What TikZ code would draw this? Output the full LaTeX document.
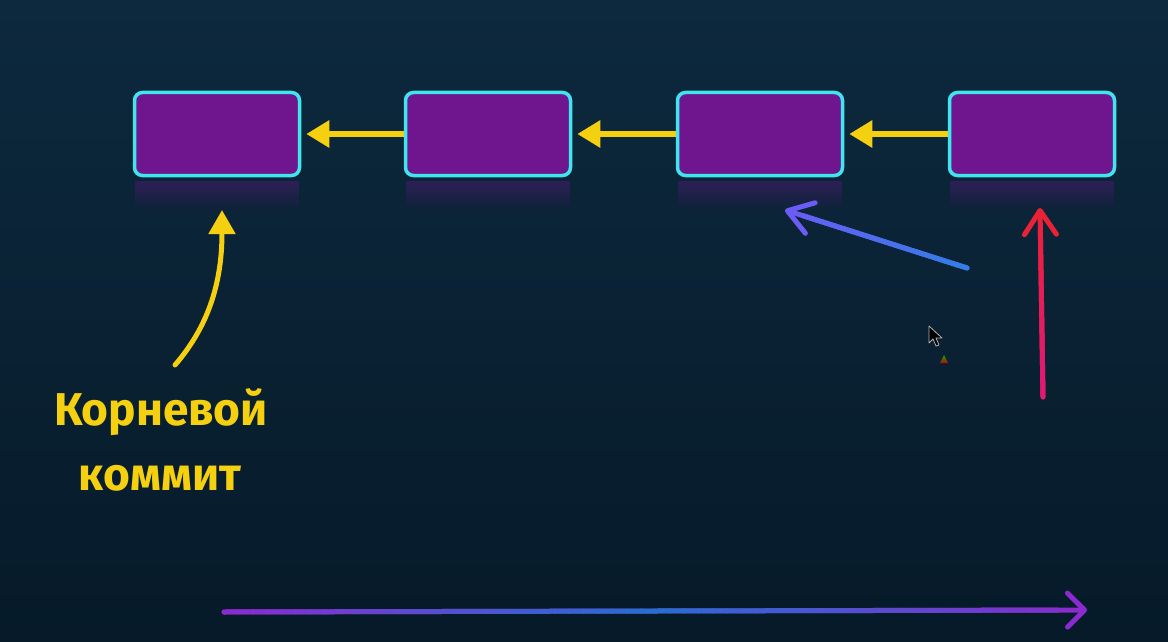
\documentclass[tikz,border=0pt]{standalone}
\usepackage{fontspec}
\setmainfont{Fira Sans}
\usetikzlibrary{arrows.meta,calc,fadings}
\definecolor{bgtop}{HTML}{0D293E}
\definecolor{bgbot}{HTML}{061A29}
\definecolor{boxfill}{HTML}{6F168F}
\definecolor{cyanb}{HTML}{3FE6EE}
\definecolor{yel}{HTML}{F5D010}
\definecolor{bluel}{HTML}{6A5CF5}
\definecolor{bluer}{HTML}{2F80E6}
\definecolor{redt}{HTML}{EA2238}
\definecolor{redb}{HTML}{E0187A}
\definecolor{purpe}{HTML}{8B2BCF}
\definecolor{bluem}{HTML}{2370D0}
\begin{document}
\begin{tikzpicture}[x=1pt,y=-1pt,
  commit/.style={draw=cyanb, line width=3.5pt, fill=boxfill, rounded corners=8pt,
    minimum width=165pt, minimum height=83pt, inner sep=0pt},
  refl/.style={fill=boxfill, fill opacity=0.35, path fading=south},
  yarrow/.style={draw=yel, line width=6pt, -{Triangle[length=23pt,width=26pt]}},
  barb/.style={line width=5pt, line cap=round, -{Straight Barb[length=24pt,width=32pt,line cap=round,line join=round]}},
  barbs/.style={line width=5pt, line cap=round, -{Straight Barb[length=17pt,width=34pt,line cap=round,line join=round]}},
  seg/.style={line width=5pt, line cap=round},
  lbl/.style={text=yel, font=\fontsize{46}{50}\selectfont\bfseries, anchor=base, inner sep=0pt}]
\shade[top color=bgtop, bottom color=bgbot] (0,0) rectangle (1168,642);
\useasboundingbox (0,0) rectangle (1168,642);

% reflections
\foreach \x in {217,488,760,1032}{
  \fill[refl] (\x-82,181) rectangle (\x+82,212);
}

% commits
\node[commit] (b1) at (217,134) {};
\node[commit] (b2) at (488,134) {};
\node[commit] (b3) at (760,134) {};
\node[commit] (b4) at (1032,134) {};

% chain arrows
\draw[yarrow, shorten >=5pt] (b2.west) -- (b1.east);
\draw[yarrow, shorten >=5pt] (b3.west) -- (b2.east);
\draw[yarrow, shorten >=5pt] (b4.west) -- (b3.east);

% root label
\node[lbl] (t1) at (161,425) {Корневой};
\node[lbl] (t2) at (160,490) {коммит};
\coordinate (ys) at (175,365);
\coordinate (ye) at (222,210);
\draw[draw=yel, line width=5pt, line cap=round, -{Triangle[length=24pt,width=26pt]}]
  (ys) .. controls (207,328) and (222,285) .. (ye);

% blue arrow
\coordinate (bs) at (967,268);
\coordinate (be) at (785,210);
\draw[barb, draw=bluel] (bs) -- (be);
\foreach \i in {1,...,36}{
  \pgfmathsetmacro\p{100*(\i-0.5)/40}
  \draw[seg, draw=bluel!\p!bluer] ($(bs)!{(\i-1)/40}!(be)$) -- ($(bs)!{\i/40}!(be)$);
}

% red arrow
\coordinate (rs) at (1043,397);
\coordinate (re) at (1040,208);
\draw[barb, draw=redt] (rs) -- (re);
\foreach \i in {1,...,36}{
  \pgfmathsetmacro\p{100*(\i-0.5)/40}
  \draw[seg, draw=redt!\p!redb] ($(rs)!{(\i-1)/40}!(re)$) -- ($(rs)!{\i/40}!(re)$);
}

% bottom timeline arrow
\coordinate (ts) at (224,612);
\coordinate (te) at (1087,610);
\draw[barbs, draw=purpe] (ts) -- (te);
\foreach \i in {1,...,58}{
  \pgfmathsetmacro\p{100*abs(2*(\i-0.5)/60-1)}
  \draw[seg, draw=purpe!\p!bluem] ($(ts)!{(\i-1)/60}!(te)$) -- ($(ts)!{\i/60}!(te)$);
}

% mouse cursor and small marker
\filldraw[fill=black, draw=gray!60, line width=0.8pt, line join=round]
  (929,326) -- (929,343) -- (933,339) -- (936,346) -- (939,345) -- (936,338) -- (942,338) -- cycle;
\shade[top color=green!70!black, bottom color=red!80!black] (944,355) -- (940,363) -- (948,363) -- cycle;
\end{tikzpicture}
\end{document}
